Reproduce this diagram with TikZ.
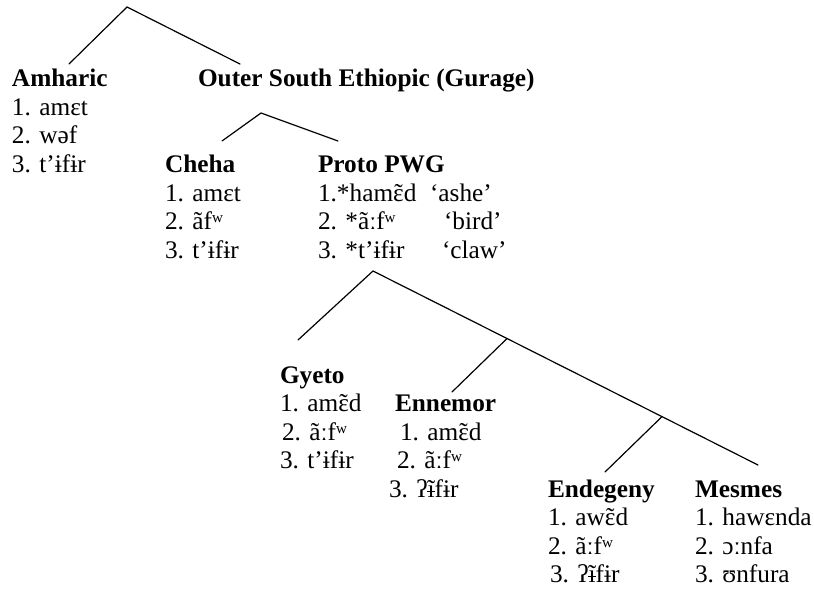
\documentclass[tikz,border=0pt]{standalone}
\usepackage{fontspec}
\setmainfont{Liberation Serif}
\usetikzlibrary{calc}
\newcommand\nasE{{\ooalign{ɛ\cr\hidewidth˜\hidewidth\cr}}}
\newcommand\nasI{{\ooalign{ĩ\cr\hidewidth\rule[0.2em]{0.3em}{0.045em}\hidewidth\cr}}}
\begin{document}
\begin{tikzpicture}[x=1pt,y=-1pt,
  every node/.style={inner sep=0pt, outer sep=0pt, anchor=base west},
  txt/.style={font=\fontsize{25.3}{28}\selectfont},
  head/.style={font=\fontsize{25.3}{28}\selectfont\bfseries},
  branch/.style={line width=1.2pt, line cap=round}]
\useasboundingbox (0,0) rectangle (814,591);

% level 1
\node[head] (amh) at (12,87) {Amharic};
\node[txt] (amh1) at (12,115.5) {1. amɛt};
\node[txt] (amh2) at (12,144) {2. wəf};
\node[txt] (amh3) at (12,172.5) {3. t’ɨfɨr};
\node[head] (ose) at (198,87) {Outer South Ethiopic (Gurage)};

% level 2
\node[head] (che) at (165,172.5) {Cheha};
\node[txt] (che1) at (165,201) {1. amɛt};
\node[txt] (che2) at (165,229.5) {2. ãfʷ};
\node[txt] (che3) at (165,258) {3. t’ɨfɨr};
\node[head] (pwg) at (318,172.5) {Proto PWG};
\node[txt] (pwg1) at (318,201) {1.*ham\nasE d};
\node[txt] (pwg2) at (318,229.5) {2. *ãːfʷ};
\node[txt] (pwg3) at (318,258) {3. *t’ɨfɨr};
\node[txt] (gl1) at (430,201) {‘ashe’};
\node[txt] (gl2) at (444,229.5) {‘bird’};
\node[txt] (gl3) at (442,258) {‘claw’};

% level 3
\node[head] (gye) at (280,383) {Gyeto};
\node[txt] (gye1) at (280,411.5) {1. am\nasE d};
\node[txt] (gye2) at (282,440) {2. ãːfʷ};
\node[txt] (gye3) at (280,468.5) {3. t’ɨfɨr};
\node[head] (enn) at (395,411.5) {Ennemor};
\node[txt] (enn1) at (400,440) {1. am\nasE d};
\node[txt] (enn2) at (397,468.5) {2. ãːfʷ};
\node[txt] (enn3) at (389,497) {3. ʔ\nasI fɨr};
\node[head] (end) at (548,497) {Endegeny};
\node[txt] (end1) at (548,525.5) {1. aw\nasE d};
\node[txt] (end2) at (548,554) {2. ãːfʷ};
\node[txt] (end3) at (550,582.5) {3. ʔ\nasI fɨr};
\node[head] (mes) at (695,497) {Mesmes};
\node[txt] (mes1) at (695,525.5) {1. hawɛnda};
\node[txt] (mes2) at (695,554) {2. ɔːnfa};
\node[txt] (mes3) at (695,582.5) {3. ʊnfura};

% tree coordinates
\coordinate (r) at (127,7);
\coordinate (rl) at (69,64);
\coordinate (rr) at (240,64);
\coordinate (s) at (261,113);
\coordinate (sl) at (222,141);
\coordinate (sr) at (338,141);
\coordinate (p) at (373,271);
\coordinate (pl) at (298,340);
\coordinate (pr) at (758,465);
\coordinate (b1) at ($(p)!0.3481!(pr)$);
\coordinate (b1e) at (452,392);
\coordinate (b2) at ($(p)!0.7506!(pr)$);
\coordinate (b2e) at (605,472);

\draw[branch] (rl) -- (r) -- (rr);
\draw[branch] (sl) -- (s) -- (sr);
\draw[branch] (pl) -- (p) -- (pr);
\draw[branch] (b1) -- (b1e);
\draw[branch] (b2) -- (b2e);
\end{tikzpicture}
\end{document}
